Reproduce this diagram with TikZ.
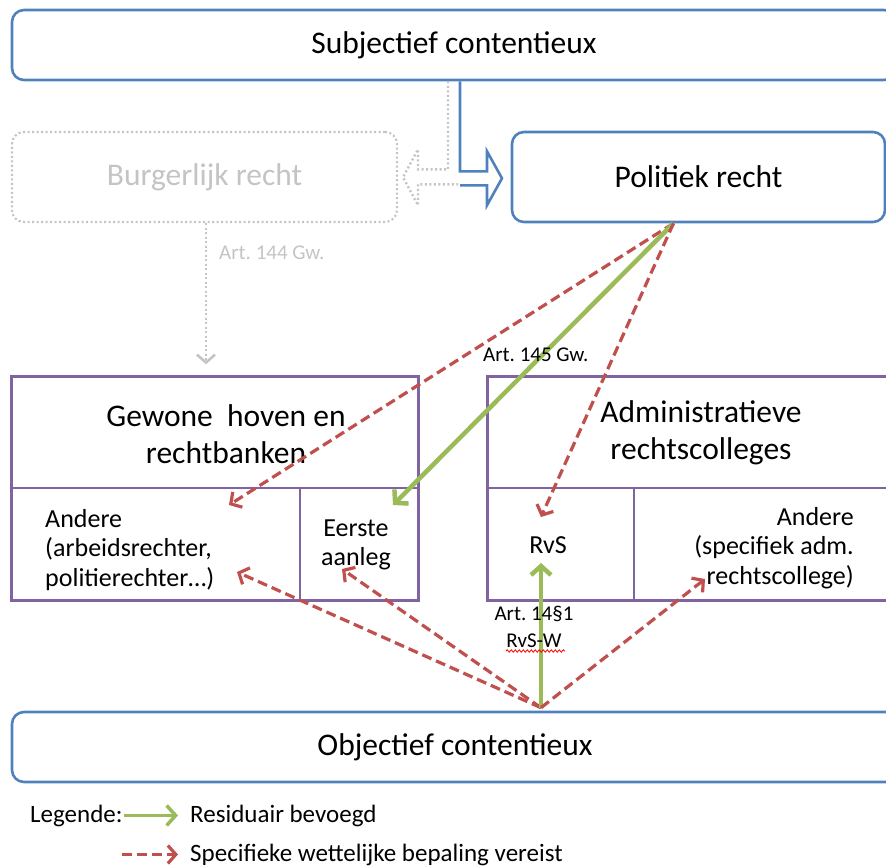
\documentclass[tikz,border=0pt]{standalone}
\usepackage{fontspec}
\setmainfont{Carlito}
\usetikzlibrary{arrows.meta,decorations.pathmorphing,calc}
\definecolor{bblue}{HTML}{4F81BD}
\definecolor{rred}{HTML}{C0504D}
\definecolor{ggreen}{HTML}{9BBB59}
\definecolor{ppurple}{HTML}{8064A2}
\definecolor{lgrey}{HTML}{C4C4C4}
\frenchspacing
\begin{document}
\begin{tikzpicture}[x=1pt,y=-1pt,
  bigtext/.style={font=\fontsize{31.5}{37}\selectfont},
  celltext/.style={font=\fontsize{26}{29.5}\selectfont},
  smalltext/.style={font=\fontsize{21}{27}\selectfont},
  legtext/.style={font=\fontsize{25}{30}\selectfont},
  bluebox/.style={draw=bblue, line width=2.6pt, rounded corners=12pt, bigtext, inner sep=0pt},
  greybox/.style={draw=lgrey, line width=2.2pt, dash pattern=on 2pt off 2.5pt, rounded corners=12pt, bigtext, text=lgrey, inner sep=0pt},
  cell/.style={draw=ppurple, line width=1.3pt, inner sep=0pt},
  outer/.style={draw=ppurple, line width=2.6pt},
  redarr/.style={draw=rred, line width=3.2pt, dash pattern=on 10pt off 5pt, -{Straight Barb[length=8pt,width=18pt]}},
  greenarr/.style={draw=ggreen, line width=4.5pt, -{Straight Barb[length=9pt,width=20pt]}},
  greyarr/.style={draw=lgrey, line width=2.6pt, dash pattern=on 2pt off 2.5pt, -{Straight Barb[length=8pt,width=18pt]}},
  lbl/.style={inner sep=0pt}
]
\useasboundingbox (0,0) rectangle (886,867);
\clip (0,0) rectangle (886,867);

% top boxes
\node[bluebox, minimum width=884pt, minimum height=70pt] (subj) at (454,45) {Subjectief contentieux};
\node[bluebox, minimum width=373pt, minimum height=90pt] (pol) at (698.5,177) {Politiek recht};
\node[greybox, minimum width=385pt, minimum height=90pt] (burg) at (204.5,177) {Burgerlijk recht};

% Gewone hoven en rechtbanken
\node[cell, minimum width=406pt, minimum height=111pt] (gew) at (215,432.5) {};
\node[bigtext, lbl, align=center] (gewT) at (226,434) {Gewone\ \ hoven en\\rechtbanken};
\node[cell, minimum width=288pt, minimum height=112pt] (gewA) at (156,544) {};
\node[cell, minimum width=118pt, minimum height=112pt] (gewE) at (359,544) {};
\draw[outer] (gew.north west) rectangle (gewE.south east);

% Administratieve rechtscolleges
\node[cell, minimum width=426pt, minimum height=111pt, bigtext, align=center] (adm) at (701,432.5) {Administratieve\\rechtscolleges};
\node[cell, minimum width=146pt, minimum height=112pt] (rvsC) at (561,544) {};
\node[cell, minimum width=280pt, minimum height=112pt] (admA) at (774,544) {};
\draw[outer] (adm.north west) rectangle (admA.south east);

% cell texts
\node[celltext, lbl, align=left, anchor=west] (tA) at (45,550) {Andere\\(arbeidsrechter,\\politierechter…)};
\node[celltext, lbl, align=center] (tE) at (356,545) {Eerste\\aanleg};
\node[celltext, lbl] (tR) at (548,545) {RvS};
\node[celltext, lbl, align=right, anchor=east] (tA2) at (854,548) {Andere\\(specifiek adm.\\rechtscollege)};

% bottom box
\node[bluebox, minimum width=886pt, minimum height=70pt] (obj) at (455,747) {Objectief contentieux};

% bent arrows from Subjectief contentieux
\draw[lgrey, line width=2.4pt, dash pattern=on 2pt off 2.5pt]
  ($(subj.south)+(-6,0)$) -- ++(0,88) -- ++(-30,0) -- ++(0,-20) -- ++(-15,28) -- ++(15,28) -- ++(0,-21) -- ++(40,0);
\draw[bblue, line width=2.6pt, line join=miter]
  ($(subj.south)+(6,0)$) -- ++(0,90) -- ++(27,0) -- ++(0,-20) -- ++(15,27) -- ++(-15,27) -- ++(0,-20) -- ++(-27,0);

% grey arrow Art. 144
\draw[greyarr] ($(burg.south)+(1.5,0)$) -- ($(gew.north)+(-9,-12)$);

% coordinates for arrows
\coordinate (ps) at ($(pol.south)+(-25,0)$);
\coordinate (os) at ($(obj.north)+(86,-3)$);
\coordinate (t1) at (229,505);
\coordinate (t2) at (393,505);
\coordinate (t3) at (541,517);
\coordinate (t4) at (237,572);
\coordinate (t5) at (342,569);
\coordinate (t6) at (541,563);
\coordinate (t7) at (705,579);

\draw[redarr] (ps) -- (t1);
\draw[greenarr] (ps) -- (t2);
\draw[redarr] (ps) -- (t3);
\draw[redarr] (os) -- (t4);
\draw[redarr] (os) -- (t5);
\draw[greenarr] (os) -- (t6);
\draw[redarr] (os) -- (t7);

% labels
\node[smalltext, lbl, text=lgrey, anchor=west] (a144) at (219,253) {Art. 144 Gw.};
\node[smalltext, lbl, anchor=west] (a145) at (483,355) {Art. 145 Gw.};
\node[smalltext, lbl, align=center] (a14) at (534,627) {Art. 14§1\\RvS-W};
\draw[red, line width=0.8pt, decorate, decoration={snake, amplitude=1.2pt, segment length=4pt}] (506,651) -- (565,651);

% legend
\node[legtext, lbl, anchor=base west] (leg) at (30,822) {Legende:};
\node[legtext, lbl, anchor=base west] (l1) at (190,822) {Residuair bevoegd};
\node[legtext, lbl, anchor=base west] (l2) at (190,861) {Specifieke wettelijke bepaling vereist};
\draw[greenarr, line width=3.5pt] ($(l1.west)+(-66,0)$) -- ($(l1.west)+(-12,0)$);
\draw[redarr] ($(l2.west)+(-68,0)$) -- ($(l2.west)+(-12,0)$);
\end{tikzpicture}
\end{document}
